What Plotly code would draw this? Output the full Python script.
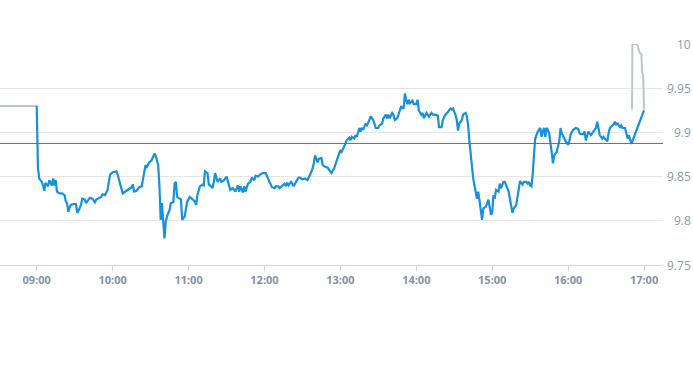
import plotly.graph_objects as go

DAY = "2024-01-02 "

# Regular session (blue)
session_times = [
"09:00","09:01","09:02","09:04","09:05","09:06","09:07","09:09","09:10","09:12","09:13","09:14","09:15","09:16","09:18","09:20","09:22","09:23","09:24","09:25","09:26","09:27","09:29","09:31","09:32","09:33","09:35","09:36","09:38","09:39","09:41","09:42","09:44","09:46","09:47","09:49","09:51","09:52","09:54","09:55","09:56","09:57","09:58",
"10:00","10:03","10:04","10:06","10:08","10:09","10:12","10:15","10:16","10:17","10:19","10:21","10:23","10:25","10:26","10:27","10:29","10:31","10:33","10:34","10:35","10:36","10:37","10:38","10:39","10:40","10:41","10:42","10:43","10:45","10:46","10:48","10:49","10:50","10:51","10:53","10:54","10:55","10:57","10:58","10:59",
"11:01","11:03","11:05","11:06","11:07","11:09","11:11","11:12","11:13","11:15","11:16","11:17","11:19","11:20","11:21","11:23","11:25","11:26","11:28","11:30","11:32","11:33","11:35","11:37","11:39","11:40","11:41","11:43","11:44","11:45","11:47","11:49","11:50","11:52","11:53","11:55","11:57","11:59",
"12:01","12:02","12:04","12:06","12:08","12:09","12:11","12:12","12:14","12:16","12:17","12:18","12:19","12:21","12:22","12:23","12:25","12:27","12:28","12:30","12:32","12:34","12:36","12:38","12:39","12:40","12:42","12:43","12:45","12:46","12:48","12:50","12:52","12:53","12:55","12:57","12:59",
"13:00","13:01","13:03","13:04","13:05","13:07","13:08","13:09","13:11","13:12","13:13","13:15","13:16","13:17","13:18","13:20","13:21","13:22","13:24","13:26","13:28","13:30","13:31","13:33","13:34","13:36","13:37","13:38","13:39","13:41","13:42","13:43","13:45","13:47","13:48","13:50","13:51","13:52","13:53","13:54","13:55","13:57","13:58",
"14:00","14:01","14:02","14:04","14:05","14:06","14:08","14:10","14:12","14:13","14:15","14:17","14:18","14:20","14:21","14:23","14:25","14:27","14:28","14:29","14:31","14:32","14:33","14:34","14:35","14:36","14:37","14:39","14:40","14:41","14:42","14:43","14:44","14:45","14:46","14:47","14:48","14:49","14:50","14:51","14:52","14:53","14:55","14:57","14:58","14:59",
"15:00","15:01","15:02","15:03","15:05","15:06","15:07","15:09","15:10","15:11","15:13","15:14","15:15","15:16","15:17","15:19","15:20","15:21","15:22","15:24","15:25","15:27","15:28","15:29","15:30","15:31","15:32","15:33","15:34","15:35","15:36","15:38","15:39","15:40","15:41","15:42","15:43","15:44","15:45","15:47","15:48","15:49","15:51","15:52","15:53","15:54","15:55","15:57","15:58",
"16:00","16:01","16:02","16:04","16:06","16:08","16:09","16:10","16:12","16:13","16:14","16:16","16:17","16:18","16:20","16:21","16:22","16:23","16:24","16:25","16:27","16:28","16:29","16:31","16:32","16:33","16:35","16:36","16:37","16:38","16:39","16:41","16:42","16:43","16:45","16:46","16:47","16:48","16:49","16:50",
"17:00"]
session_prices = [
9.930,9.860,9.848,9.844,9.840,9.834,9.843,9.839,9.846,9.840,9.848,9.840,9.846,9.833,9.831,9.831,9.829,9.822,9.820,9.810,9.815,9.818,9.819,9.819,9.809,9.811,9.818,9.825,9.824,9.820,9.824,9.826,9.825,9.821,9.824,9.826,9.827,9.830,9.829,9.832,9.835,9.844,9.852,
9.855,9.856,9.852,9.840,9.831,9.832,9.835,9.838,9.841,9.833,9.834,9.838,9.839,9.856,9.863,9.861,9.866,9.869,9.876,9.874,9.867,9.863,9.840,9.801,9.820,9.799,9.780,9.799,9.805,9.812,9.820,9.821,9.842,9.844,9.827,9.825,9.824,9.801,9.805,9.814,9.822,
9.827,9.824,9.822,9.818,9.829,9.839,9.841,9.840,9.856,9.854,9.841,9.840,9.837,9.844,9.854,9.844,9.848,9.844,9.846,9.850,9.840,9.835,9.837,9.833,9.840,9.833,9.839,9.832,9.839,9.833,9.842,9.844,9.849,9.846,9.851,9.850,9.853,9.854,
9.854,9.850,9.844,9.838,9.837,9.839,9.839,9.837,9.840,9.842,9.840,9.843,9.840,9.844,9.842,9.839,9.844,9.849,9.849,9.847,9.848,9.846,9.852,9.859,9.865,9.874,9.866,9.870,9.871,9.863,9.861,9.860,9.856,9.854,9.859,9.869,9.876,
9.880,9.878,9.884,9.888,9.891,9.894,9.891,9.895,9.893,9.897,9.895,9.905,9.901,9.905,9.903,9.910,9.908,9.911,9.918,9.914,9.905,9.905,9.908,9.910,9.916,9.920,9.916,9.920,9.916,9.922,9.920,9.914,9.916,9.925,9.929,9.927,9.944,9.937,9.932,9.937,9.933,9.936,9.932,
9.932,9.937,9.925,9.920,9.922,9.916,9.922,9.918,9.922,9.920,9.920,9.919,9.906,9.906,9.914,9.920,9.923,9.927,9.926,9.927,9.920,9.914,9.902,9.910,9.912,9.914,9.920,9.922,9.918,9.908,9.890,9.874,9.859,9.848,9.840,9.833,9.825,9.833,9.824,9.814,9.801,9.814,9.816,9.824,9.816,9.807,
9.809,9.829,9.825,9.835,9.833,9.842,9.837,9.844,9.844,9.840,9.833,9.825,9.814,9.809,9.814,9.818,9.827,9.837,9.845,9.841,9.844,9.844,9.842,9.844,9.840,9.839,9.852,9.874,9.893,9.897,9.901,9.905,9.895,9.901,9.905,9.895,9.905,9.903,9.899,9.878,9.865,9.874,9.878,9.884,9.890,9.905,9.899,9.893,9.890,
9.886,9.890,9.898,9.903,9.905,9.904,9.899,9.898,9.898,9.901,9.891,9.901,9.899,9.897,9.901,9.903,9.905,9.912,9.903,9.897,9.893,9.895,9.893,9.890,9.899,9.905,9.908,9.909,9.912,9.909,9.910,9.906,9.908,9.905,9.905,9.897,9.893,9.897,9.891,9.887,
9.925]

# Pre-market (grey)
pre_times = ["08:00", "09:00"]
pre_prices = [9.930, 9.930]

# After-hours (grey)
post_times = ["16:50:30", "16:50:50", "16:54:15", "16:55:00", "16:56:30", "16:57:50", "16:58:40", "16:59:20", "17:00:00"]
post_prices = [9.926, 10.000, 10.000, 9.998, 9.990, 9.989, 9.967, 9.965, 9.926]

prev_close = 9.8875

y_ticks = [9.75, 9.8, 9.85, 9.9, 9.95, 10.0]
y_tick_labels = ["9.75", "9.8", "9.85", "9.9", "9.95", "10"]
x_ticks = ["09:00", "10:00", "11:00", "12:00", "13:00", "14:00", "15:00", "16:00", "17:00"]
x_range = ["08:31", "17:15"]
y_range = [9.75, 10.0]

GREY = "#bcc6ce"
BLUE = "#1591de"

fig = go.Figure()
fig.add_trace(go.Scatter(x=[DAY + t for t in pre_times], y=pre_prices, mode="lines",
                         line=dict(color=GREY, width=2), hoverinfo="skip"))
fig.add_trace(go.Scatter(x=[DAY + t for t in post_times], y=post_prices, mode="lines",
                         line=dict(color=GREY, width=2), hoverinfo="skip"))
fig.add_trace(go.Scatter(x=[DAY + t for t in session_times], y=session_prices, mode="lines",
                         line=dict(color=BLUE, width=2.2)))

fig.add_shape(type="line", xref="paper", x0=0, x1=1, yref="y", y0=prev_close, y1=prev_close,
              line=dict(color="#e53935", width=1), layer="above")

PLOT_W = 663.5
for v, lab in zip(y_ticks, y_tick_labels):
    fig.add_annotation(x=694 / PLOT_W, xref="paper", y=v, yref="y", text=lab,
                       showarrow=False, xanchor="right", yanchor="middle",
                       font=dict(family="Open Sans", size=12, color="#8d99a7"))

fig.update_layout(
    width=693, height=365,
    margin=dict(l=0, r=693 - PLOT_W, t=44, b=100),
    paper_bgcolor="white", plot_bgcolor="white",
    showlegend=False,
    xaxis=dict(type="date", range=[DAY + x_range[0], DAY + x_range[1]],
               tickvals=[DAY + t for t in x_ticks], ticktext=x_ticks,
               showgrid=False, zeroline=False,
               showline=True, linecolor="#ccd6eb", linewidth=1,
               ticks="outside", ticklen=5, tickcolor="#ccd6eb",
               tickfont=dict(family="Open Sans", size=11, color="#8392a5", weight="bold")),
    yaxis=dict(range=y_range, tickvals=y_ticks, showticklabels=False,
               showgrid=True, gridcolor="#e6e6e6", gridwidth=1, zeroline=False, ticks=""),
)

fig.write_html("out.html", config={"displayModeBar": False},
               post_script="document.body.style.margin='0';")
